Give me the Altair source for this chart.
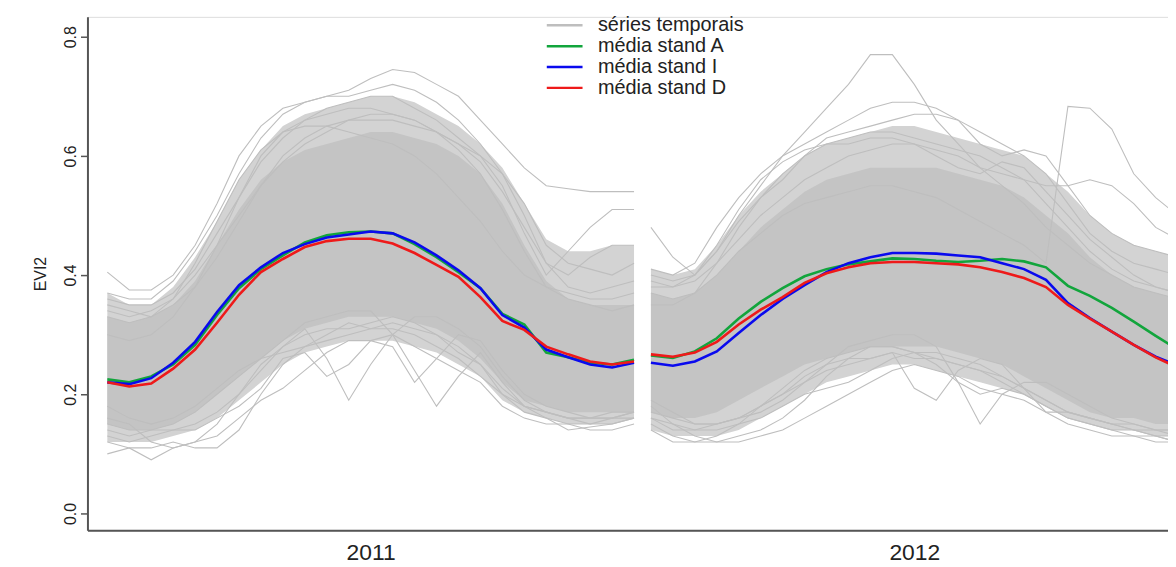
import altair as alt
import pandas as pd

# ---------------- data ----------------
years = ["2011", "2012"]
year_start = [0.0, 24.77]          # time index where each year's series starts
n_steps = 25
year_label_pos = [12.0, 36.77]      # centre of each year (x-axis label position)

series_names = ["séries temporais", "média stand A", "média stand I", "média stand D"]
series_colors = ["#BEBEBE", "#12A53C", "#0A0AEE", "#EE1A1A"]

y_ticks = [0.0, 0.2, 0.4, 0.6, 0.8]

# mean curves
mean_A_2011 = [0.225, 0.220, 0.230, 0.250, 0.283, 0.333, 0.378, 0.410, 0.433, 0.455, 0.467, 0.472, 0.473,
               0.470, 0.452, 0.430, 0.405, 0.378, 0.335, 0.317, 0.270, 0.262, 0.253, 0.250, 0.258]
mean_I_2011 = [0.220, 0.217, 0.227, 0.253, 0.288, 0.338, 0.383, 0.413, 0.437, 0.452, 0.463, 0.468, 0.473,
               0.470, 0.455, 0.433, 0.408, 0.378, 0.333, 0.312, 0.275, 0.262, 0.250, 0.245, 0.253]
mean_D_2011 = [0.220, 0.213, 0.218, 0.243, 0.275, 0.320, 0.367, 0.405, 0.427, 0.447, 0.457, 0.461, 0.461,
               0.453, 0.437, 0.417, 0.397, 0.363, 0.323, 0.308, 0.280, 0.267, 0.255, 0.250, 0.255]
mean_A_2012 = [0.265, 0.261, 0.272, 0.294, 0.327, 0.355, 0.378, 0.398, 0.410, 0.418, 0.423, 0.428, 0.427,
               0.424, 0.422, 0.424, 0.427, 0.423, 0.413, 0.382, 0.365, 0.345, 0.322, 0.298, 0.275]
mean_I_2012 = [0.253, 0.248, 0.255, 0.272, 0.303, 0.333, 0.360, 0.383, 0.405, 0.420, 0.430, 0.437, 0.437,
               0.436, 0.433, 0.430, 0.420, 0.410, 0.392, 0.353, 0.328, 0.305, 0.283, 0.263, 0.248]
mean_D_2012 = [0.267, 0.263, 0.270, 0.288, 0.317, 0.342, 0.363, 0.387, 0.403, 0.413, 0.420, 0.422, 0.422,
               0.420, 0.418, 0.413, 0.405, 0.395, 0.380, 0.350, 0.327, 0.305, 0.283, 0.262, 0.245]

# dense core of the grey time series (lower / upper edge)
core_lo_2011 = [.15, .14, .14, .15, .17, .20, .23, .26, .29, .31, .32, .33, .33, .33, .32, .31, .29, .26, .22, .19, .18, .17, .17, .17, .17]
core_hi_2011 = [.33, .32, .33, .35, .39, .45, .51, .56, .59, .61, .62, .63, .64, .64, .63, .62, .60, .57, .52, .45, .39, .36, .35, .35, .35]
core_lo_2012 = [.17, .16, .16, .17, .19, .21, .23, .25, .26, .27, .28, .28, .28, .28, .27, .26, .25, .23, .21, .19, .17, .16, .16, .15, .15]
core_hi_2012 = [.37, .36, .37, .40, .44, .48, .51, .54, .56, .57, .58, .58, .58, .58, .57, .56, .55, .53, .50, .47, .43, .40, .38, .37, .36]

# less dense outer zone of the grey time series
outer_lo_2011 = [.12, .12, .12, .13, .14, .16, .19, .22, .25, .27, .28, .29, .29, .29, .28, .27, .25, .23, .19, .17, .16, .15, .15, .15, .16]
outer_hi_2011 = [.37, .35, .35, .38, .43, .49, .56, .61, .65, .67, .68, .69, .70, .70, .69, .67, .65, .62, .58, .52, .46, .44, .44, .45, .45]
outer_lo_2012 = [.14, .13, .13, .13, .14, .16, .18, .20, .22, .23, .24, .25, .25, .24, .23, .22, .21, .20, .18, .16, .15, .14, .14, .13, .13]
outer_hi_2012 = [.41, .40, .41, .45, .50, .54, .57, .60, .62, .63, .64, .65, .65, .64, .63, .62, .61, .60, .57, .54, .50, .47, .45, .44, .43]

# individual grey series
grey_2011 = [
    [.405, .375, .375, .40, .45, .52, .60, .65, .68, .69, .70, .71, .73, .745, .74, .72, .70, .66, .62, .58, .55, .545, .54, .54, .54],
    [.37, .36, .36, .39, .44, .50, .57, .63, .67, .69, .70, .70, .71, .72, .71, .69, .66, .62, .57, .50, .42, .40, .43, .45, .45],
    [.36, .35, .35, .37, .41, .47, .53, .59, .63, .66, .68, .69, .70, .70, .68, .66, .63, .60, .55, .47, .40, .44, .48, .51, .51],
    [.34, .33, .34, .36, .40, .45, .50, .55, .60, .63, .65, .66, .67, .67, .66, .64, .62, .59, .54, .48, .42, .38, .37, .38, .39],
    [.35, .34, .33, .35, .38, .43, .49, .55, .59, .62, .64, .66, .66, .66, .65, .64, .62, .60, .57, .52, .45, .42, .41, .40, .42],
    [.33, .32, .33, .36, .42, .49, .56, .61, .64, .65, .65, .64, .63, .62, .60, .57, .53, .49, .44, .40, .38, .37, .36, .36, .37],
    [.30, .29, .30, .33, .38, .45, .53, .60, .64, .66, .67, .68, .68, .67, .66, .64, .61, .57, .51, .44, .38, .36, .35, .34, .35],
    [.10, .11, .09, .11, .12, .13, .16, .19, .21, .24, .27, .29, .29, .30, .28, .26, .24, .22, .18, .16, .15, .15, .14, .14, .15],
    [.12, .11, .11, .12, .11, .11, .14, .20, .25, .28, .30, .32, .31, .32, .31, .30, .27, .25, .20, .17, .16, .14, .145, .15, .16],
    [.13, .12, .13, .14, .15, .17, .20, .24, .28, .31, .26, .19, .25, .30, .33, .33, .31, .28, .23, .19, .17, .16, .15, .16, .16],
    [.15, .14, .14, .15, .17, .20, .23, .26, .29, .32, .33, .34, .34, .30, .24, .18, .23, .27, .22, .18, .17, .16, .16, .17, .17],
    [.16, .15, .12, .11, .12, .15, .20, .25, .28, .30, .31, .31, .32, .33, .32, .30, .28, .25, .21, .18, .16, .15, .15, .15, .16],
    [.14, .13, .14, .14, .14, .16, .18, .21, .26, .27, .23, .25, .29, .28, .22, .26, .30, .29, .24, .20, .18, .17, .16, .16, .17],
    [.18, .16, .15, .16, .18, .21, .24, .26, .27, .28, .29, .30, .31, .31, .30, .28, .26, .23, .20, .18, .17, .16, .16, .16, .17],
]
grey_2012 = [
    [.48, .43, .40, .44, .50, .55, .60, .64, .68, .72, .77, .77, .72, .66, .62, .58, .55, .52, .48, .45, .42, .40, .38, .37, .36],
    [.41, .40, .42, .48, .53, .57, .60, .62, .64, .66, .68, .69, .69, .68, .66, .62, .60, .61, .60, .55, .50, .47, .45, .44, .43],
    [.40, .39, .40, .44, .49, .53, .56, .60, .63, .64, .65, .66, .67, .67, .66, .64, .62, .60, .57, .52, .47, .44, .42, .41, .40],
    [.37, .36, .37, .40, .44, .47, .50, .52, .53, .54, .55, .55, .54, .53, .51, .49, .47, .45, .42, .683, .68, .645, .57, .53, .50],
    [.39, .38, .39, .42, .46, .50, .53, .56, .58, .60, .61, .62, .62, .61, .60, .58, .57, .56, .55, .55, .56, .55, .52, .48, .46],
    [.38, .38, .40, .45, .51, .56, .59, .61, .62, .62, .63, .63, .62, .60, .58, .57, .59, .58, .54, .50, .46, .43, .40, .38, .37],
    [.35, .35, .37, .42, .48, .53, .57, .60, .62, .63, .64, .64, .63, .62, .61, .60, .58, .56, .52, .48, .44, .41, .39, .38, .37],
    [.14, .12, .12, .12, .12, .13, .14, .16, .18, .20, .22, .24, .25, .24, .23, .21, .20, .19, .17, .15, .14, .13, .13, .12, .12],
    [.15, .13, .12, .13, .15, .18, .21, .24, .26, .27, .28, .28, .27, .26, .25, .24, .22, .20, .18, .16, .15, .14, .13, .13, .12],
    [.16, .15, .14, .15, .16, .18, .20, .22, .24, .25, .26, .27, .21, .19, .24, .26, .25, .21, .17, .17, .16, .15, .14, .14, .13],
    [.17, .16, .15, .15, .16, .17, .19, .22, .25, .28, .29, .30, .30, .28, .22, .15, .20, .22, .22, .20, .18, .16, .15, .14, .14],
    [.18, .15, .13, .12, .13, .14, .16, .19, .23, .26, .28, .28, .27, .27, .26, .25, .23, .21, .19, .17, .16, .15, .14, .13, .12],
    [.16, .14, .14, .14, .15, .16, .18, .20, .21, .22, .24, .26, .27, .25, .22, .20, .21, .20, .18, .16, .15, .14, .14, .13, .13],
    [.19, .17, .15, .15, .16, .18, .20, .23, .25, .26, .26, .27, .26, .26, .25, .24, .23, .21, .19, .17, .16, .15, .15, .14, .14],
]

# ---------------- tables ----------------
def times(y_idx):
    return [year_start[y_idx] + k for k in range(n_steps)]

def band_table(lo_pair, hi_pair):
    rows = []
    for yi in range(2):
        for t, a, b in zip(times(yi), lo_pair[yi], hi_pair[yi]):
            rows.append({"year": years[yi], "t": t, "lo": a, "hi": b})
    return pd.DataFrame(rows)

outer_df = band_table((outer_lo_2011, outer_lo_2012), (outer_hi_2011, outer_hi_2012))
core_df = band_table((core_lo_2011, core_lo_2012), (core_hi_2011, core_hi_2012))

grey_rows = []
for yi, lines in enumerate([grey_2011, grey_2012]):
    for li, vals in enumerate(lines):
        for t, v in zip(times(yi), vals):
            grey_rows.append({"id": f"{years[yi]}_{li}", "t": t, "v": v, "series": series_names[0]})
grey_df = pd.DataFrame(grey_rows)

def mean_df(name, v2011, v2012):
    rows = []
    for yi, vals in enumerate([v2011, v2012]):
        for t, v in zip(times(yi), vals):
            rows.append({"id": f"{name}_{years[yi]}", "t": t, "v": v, "series": name})
    return pd.DataFrame(rows)

dfA = mean_df(series_names[1], mean_A_2011, mean_A_2012)
dfI = mean_df(series_names[2], mean_I_2011, mean_I_2012)
dfD = mean_df(series_names[3], mean_D_2011, mean_D_2012)

# ---------------- encodings ----------------
FONT = "Liberation Sans"
TXT = "#222222"
AX = "#555555"

label_expr = f"datum.value < {year_start[1]} ? '{years[0]}' : '{years[1]}'"

x_enc = alt.X(
    "t:Q",
    scale=alt.Scale(domain=[-0.905, 48.33], nice=False, zero=False),
    axis=alt.Axis(values=year_label_pos, labelExpr=label_expr, ticks=False, tickSize=0, grid=False,
                  title=None, domainColor=AX, domainWidth=2, labelFontSize=23, labelColor=TXT,
                  labelFont=FONT, labelPadding=29, labelBaseline="alphabetic", labelFlush=False),
)
y_scale = alt.Scale(domain=[-0.0283, 0.8333], nice=False, zero=False)
y_enc = alt.Y(
    "v:Q",
    scale=y_scale,
    axis=alt.Axis(values=y_ticks, format=".1f", labelAngle=270, grid=False, tickSize=7, tickColor=AX,
                  tickWidth=1.5, domainColor=AX, domainWidth=2, labelFontSize=16, labelColor=TXT,
                  labelFont=FONT, labelPadding=2, title="EVI2", titleFontSize=16, titleFont=FONT,
                  titleFontWeight="normal", titleColor=TXT, titlePadding=14),
)

color_enc = alt.Color(
    "series:N",
    scale=alt.Scale(domain=series_names, range=series_colors),
    legend=alt.Legend(title=None, orient="none", legendX=470, legendY=-2, direction="vertical",
                      symbolType="M-2,0H2", symbolSize=324, symbolStrokeWidth=2.5,
                      labelFontSize=20, labelFont=FONT, labelColor=TXT, labelOffset=23,
                      rowPadding=-3, padding=0, offset=0),
)

outer = alt.Chart(outer_df).mark_area(color="#D3D3D3", clip=True).encode(
    x=x_enc, y=alt.Y("lo:Q", scale=y_scale), y2="hi:Q", detail="year:N"
)
core = alt.Chart(core_df).mark_area(color="#C4C4C4", clip=True).encode(
    x=x_enc, y=alt.Y("lo:Q", scale=y_scale), y2="hi:Q", detail="year:N"
)
grey = alt.Chart(grey_df).mark_line(strokeWidth=1.1, clip=True).encode(
    x=x_enc, y=y_enc, color=color_enc, detail="id:N"
)

def mean_layer(df):
    return alt.Chart(df).mark_line(strokeWidth=2.6, clip=True).encode(
        x=x_enc, y=y_enc, color=color_enc, detail="id:N"
    )

chart = alt.layer(outer, core, grey, mean_layer(dfA), mean_layer(dfI), mean_layer(dfD)).properties(
    width=1088, height=517,
    autosize=alt.AutoSizeParams(type="none"),
    padding={"left": 80, "top": 7, "right": 0, "bottom": 35},
    background="white",
).configure_view(stroke=None).configure(font=FONT)

chart.save("out.html", embed_options={"renderer": "svg", "actions": False})
